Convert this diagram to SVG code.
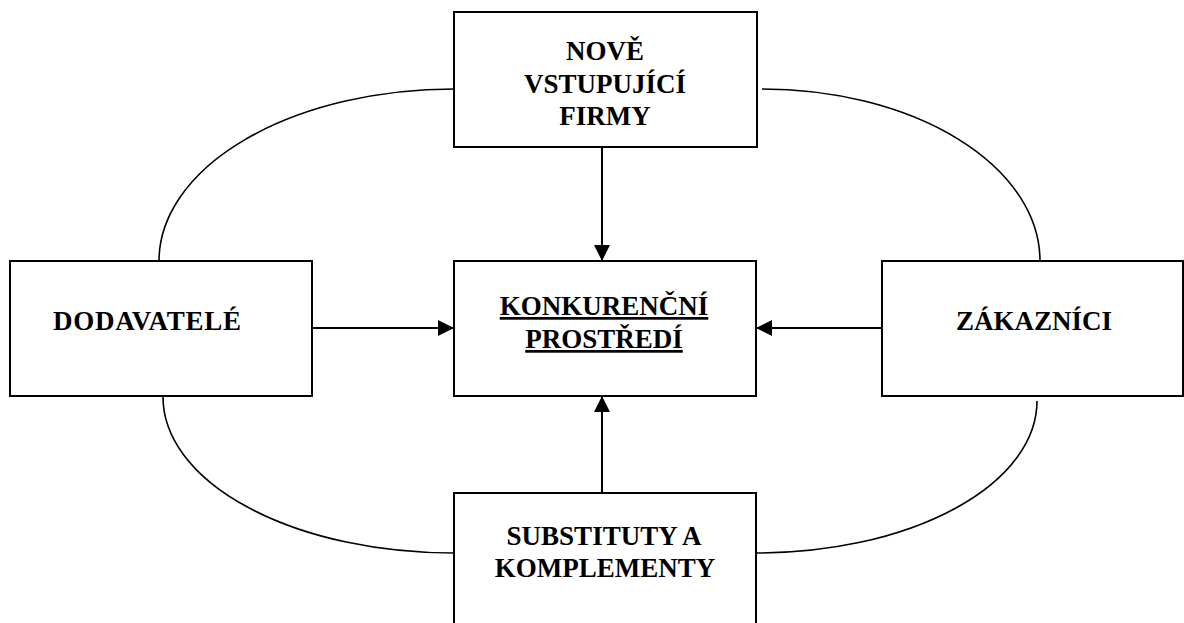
<svg xmlns="http://www.w3.org/2000/svg" width="1184" height="623" viewBox="0 0 1184 623">
  <style>
    .box { fill: #ffffff; stroke: #000000; stroke-width: 2; }
    .lbl { font-family: "Liberation Serif", "Times New Roman", serif; font-weight: bold; font-size: 27px; fill: #000000; text-anchor: middle; }
    .ul { text-decoration: underline; }
    .arc { fill: none; stroke: #000000; stroke-width: 1.6; }
    .arrow { fill: none; stroke: #000000; stroke-width: 2; marker-end: url(#ah); }
  </style>
  <defs>
    <marker id="ah" markerUnits="userSpaceOnUse" markerWidth="16" markerHeight="16" viewBox="0 0 16 16" refX="16" refY="8" orient="auto">
      <path d="M0,0 L16,8 L0,16 Z" fill="#000000"/>
    </marker>
  </defs>
  <rect width="1184" height="623" fill="#ffffff"/>

  <g id="connectors">
    <path class="arc" d="M454,89 A295,172 0 0 0 159,261"/>
    <path class="arc" d="M762,89 A278,172 0 0 1 1040,261"/>
    <path class="arc" d="M163,397 A290,156 0 0 0 453,553"/>
    <path class="arc" d="M757,553 A280,152 0 0 0 1037,401"/>
    <line class="arrow" x1="602" y1="147" x2="602" y2="261"/>
    <line class="arrow" x1="602" y1="493" x2="602" y2="396"/>
    <line class="arrow" x1="312" y1="328" x2="454" y2="328"/>
    <line class="arrow" x1="882" y1="328" x2="756" y2="328"/>
  </g>

  <g id="node-nove">
    <rect class="box" x="454" y="12" width="303" height="135"/>
    <text class="lbl" x="605" y="60">NOVĚ</text>
    <text class="lbl" x="605" y="93">VSTUPUJÍCÍ</text>
    <text class="lbl" x="605" y="125">FIRMY</text>
  </g>

  <g id="node-konkurencni">
    <rect class="box" x="454" y="261" width="302" height="135"/>
    <text class="lbl ul" x="604" y="315">KONKURENČNÍ</text>
    <text class="lbl ul" x="604" y="348">PROSTŘEDÍ</text>
  </g>

  <g id="node-dodavatele">
    <rect class="box" x="10" y="261" width="302" height="135"/>
    <text class="lbl" x="147" y="330" textLength="188" lengthAdjust="spacing">DODAVATELÉ</text>
  </g>

  <g id="node-zakaznici">
    <rect class="box" x="882" y="261" width="301" height="135"/>
    <text class="lbl" x="1034" y="330">ZÁKAZNÍCI</text>
  </g>

  <g id="node-substituty">
    <rect class="box" x="454" y="493" width="302" height="140"/>
    <text class="lbl" x="604" y="545">SUBSTITUTY A</text>
    <text class="lbl" x="605" y="577">KOMPLEMENTY</text>
  </g>
</svg>
